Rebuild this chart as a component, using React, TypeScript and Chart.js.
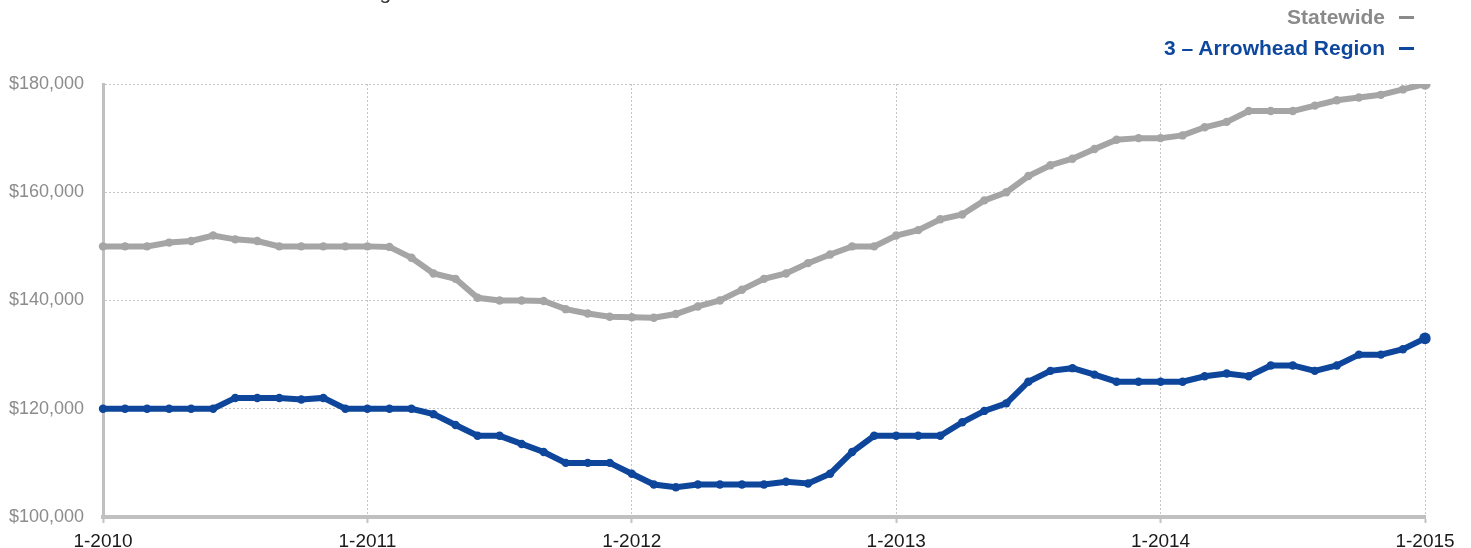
import React, { useEffect, useRef } from "react";
import { Chart, registerables } from "chart.js";

Chart.register(...registerables);

const TITLE = "Historical Median Sales Price Rolling 12-Month Calculation";
const SERIES_NAMES = ["Statewide", "3 – Arrowhead Region"];
const years = [2010, 2011, 2012, 2013, 2014];
const lastLabel = "1-2015";

const labels: string[] = [];
years.forEach((y) => {
  for (let m = 1; m <= 12; m++) labels.push(`${m}-${y}`);
});
labels.push(lastLabel);

const statewide = [
  150000, 150000, 150000, 150700, 151000, 152000, 151300, 151000, 150000, 150000, 150000, 150000,
  150000, 149900, 147900, 145000, 144000, 140500, 140000, 140000, 139900, 138400, 137600, 137000,
  136900, 136800, 137500, 138900, 140000, 142000, 144000, 145000, 146900, 148500, 150000, 150000,
  152000, 153000, 155000, 155900, 158500, 160000, 163000, 165000, 166200, 168000, 169700, 170000,
  170000, 170500, 172000, 173000, 175000, 175000, 175000, 176000, 177000, 177500, 178000, 179000,
  180000,
];

const arrowhead = [
  120000, 120000, 120000, 120000, 120000, 120000, 122000, 122000, 122000, 121700, 122000, 120000,
  120000, 120000, 120000, 119000, 117000, 115000, 115000, 113500, 112000, 110000, 110000, 110000,
  108000, 106000, 105500, 106000, 106000, 106000, 106000, 106500, 106200, 108000, 112000, 115000,
  115000, 115000, 115000, 117500, 119600, 121000, 125000, 127000, 127500, 126300, 125000, 125000,
  125000, 125000, 126000, 126500, 126000, 128000, 128000, 127000, 128000, 130000, 130000, 131000,
  133000,
];

const yTicks = [100000, 120000, 140000, 160000, 180000];

const GRAY = "#a5a5a5";
const BLUE = "#0d469b";
const FONT = "'Liberation Sans', Arial, Helvetica, sans-serif";

export default function App() {
  const ref = useRef<HTMLCanvasElement | null>(null);

  useEffect(() => {
    if (!ref.current) return;
    const isYear = (i: number) => i % 12 === 0;
    const mkSet = (label: string, data: number[], color: string) => ({
      label,
      data,
      borderColor: color,
      backgroundColor: color,
      borderWidth: 6,
      pointRadius: (c: any) => (c.dataIndex === data.length - 1 ? 5.8 : 4.2),
      pointBorderWidth: 0,
      pointBackgroundColor: color,
      tension: 0,
    });
    const chart = new Chart(ref.current, {
      type: "line",
      data: {
        labels,
        datasets: [mkSet(SERIES_NAMES[0], statewide, GRAY), mkSet(SERIES_NAMES[1], arrowhead, BLUE)],
      },
      options: {
        animation: false,
        responsive: false,
        layout: { padding: { top: 84, right: 46, left: 0, bottom: 0 } },
        plugins: {
          legend: { display: false },
          title: { display: false },
          tooltip: { enabled: false },
        },
        scales: {
          x: {
            type: "category",
            offset: false,
            grid: {
              display: true,
              drawOnChartArea: true,
              drawTicks: true,
              tickLength: 6,
              lineWidth: 1,
              tickWidth: 2,
              color: (c: any) => (isYear(c.index) ? "#c6c6c6" : "rgba(0,0,0,0)"),
              tickColor: (c: any) => (isYear(c.index) ? "#c2c2c2" : "rgba(0,0,0,0)"),
            },
            border: { display: true, color: "#c0c0c0", width: 4, dash: [2, 2] },
            ticks: {
              autoSkip: false,
              maxRotation: 0,
              minRotation: 0,
              padding: 7,
              color: "#1a1a1a",
              font: { family: FONT, size: 19 },
              callback: (_v: any, i: number) => (isYear(i) ? labels[i] : ""),
            },
            afterFit: (s: any) => {
              s.height = 31;
            },
          },
          y: {
            min: yTicks[0],
            max: yTicks[yTicks.length - 1],
            afterBuildTicks: (s: any) => {
              s.ticks = yTicks.map((v) => ({ value: v }));
            },
            ticks: {
              padding: 19,
              color: "#8c8c8c",
              font: { family: FONT, size: 18 },
              callback: (v: any) => "$" + Number(v).toLocaleString("en-US"),
            },
            grid: { color: "#c6c6c6", lineWidth: 1, drawTicks: false },
            border: { display: true, color: "#c0c0c0", width: 3, dash: [2, 2] },
            afterFit: (s: any) => {
              s.width = 103;
            },
          },
        },
      },
    } as any);
    return () => chart.destroy();
  }, []);

  const legendLine = (text: string, color: string) => (
    <div style={{ color, whiteSpace: "nowrap" }}>
      {text}
      <span
        style={{
          display: "inline-block",
          marginLeft: 14,
          width: 15,
          height: 3,
          background: color,
          verticalAlign: "middle",
          position: "relative",
          top: -1,
        }}
      />
    </div>
  );

  return (
    <div
      style={{
        position: "absolute",
        left: 0,
        top: 0,
        width: 1471,
        height: 548,
        overflow: "hidden",
        background: "#fff",
      }}
    >
      <canvas ref={ref} width={1471} height={548} style={{ position: "absolute", left: 0, top: 0 }} />
      <div
        style={{
          position: "absolute",
          left: 48,
          top: -19,
          fontFamily: FONT,
          fontSize: 21,
          lineHeight: "22px",
          color: "#333",
          whiteSpace: "nowrap",
        }}
      >
        {TITLE}
      </div>
      <div
        style={{
          position: "absolute",
          right: 57,
          top: 1,
          textAlign: "right",
          fontFamily: FONT,
          fontWeight: "bold",
          fontSize: 21,
          lineHeight: "31px",
        }}
      >
        {legendLine(SERIES_NAMES[0], "#8a8a8a")}
        {legendLine(SERIES_NAMES[1], "#0d479e")}
      </div>
    </div>
  );
}
